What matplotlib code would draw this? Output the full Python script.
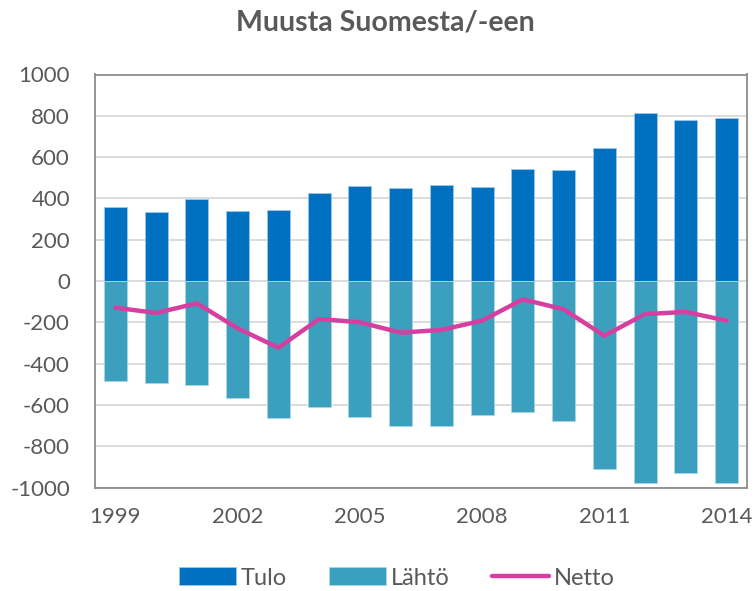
import numpy as np
import matplotlib.pyplot as plt

years = list(range(1999, 2015))
tulo = [357, 334, 396, 339, 342, 425, 459, 449, 467, 457, 541, 539, 643, 815, 778, 788]
lahto = [-484, -492, -502, -567, -663, -609, -657, -702, -701, -651, -634, -680, -909, -977, -928, -980]
netto = [-129, -155, -108, -229, -323, -184, -200, -250, -237, -192, -89, -137, -265, -160, -150, -192]
tick_years = [1999, 2002, 2005, 2008, 2011, 2014]

plt.rcParams['font.family'] = ['Lato', 'DejaVu Sans']
plt.rcParams['axes.unicode_minus'] = False
txt = '#595959'

fig = plt.figure(figsize=(7.56, 5.91), dpi=100)
ax = fig.add_axes([95 / 756, 1 - 487.5 / 591, 652 / 756, 413 / 591])

x = np.arange(len(years))
b1 = ax.bar(x, tulo, width=0.56, color='#0070C0', edgecolor='#9CC8E8', linewidth=0.6, label='Tulo', zorder=2)
b2 = ax.bar(x, lahto, width=0.56, color='#3BA0BD', edgecolor='#A9D6E3', linewidth=0.6, label='Lähtö', zorder=2)
l1, = ax.plot(x, netto, color='#D63FA0', linewidth=3.2, solid_capstyle='round', label='Netto', zorder=3)

ax.set_xlim(-0.5, len(years) - 0.5)
ax.set_ylim(-1000, 1000)
ax.set_yticks(range(-1000, 1001, 200))
ax.set_xticks([years.index(y) for y in tick_years])
ax.set_xticklabels([str(y) for y in tick_years])
ax.grid(axis='y', color='#D9D9D9', linewidth=1.3, zorder=0)
ax.set_axisbelow(True)
ax.tick_params(length=0, labelsize=16, labelcolor=txt)
ax.tick_params(axis='y', pad=18)
ax.tick_params(axis='x', pad=14)
for s in ax.spines.values():
    s.set_color('#8C8C8C')
    s.set_linewidth(1.3)

fig.text(0.51, 1 - 22 / 591, 'Muusta Suomesta/-een', ha='center', va='center',
         fontsize=20.5, fontweight='bold', color=txt)

leg = fig.legend([b1, b2, l1], ['Tulo', 'Lähtö', 'Netto'], loc='center',
                 bbox_to_anchor=(0.525, 1 - 578 / 591), ncol=3, frameon=False,
                 fontsize=17, handlelength=2.4, handleheight=0.8, handletextpad=0.2,
                 columnspacing=1.8)
for t in leg.get_texts():
    t.set_color(txt)

fig.savefig('out.png', dpi=100)
